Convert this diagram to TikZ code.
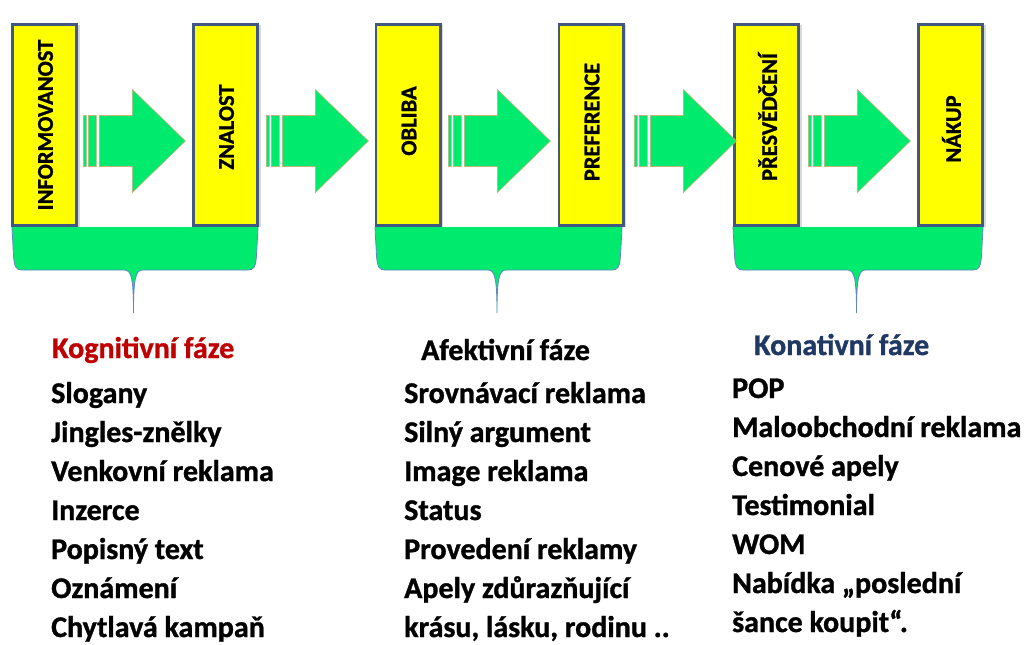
\documentclass[tikz,border=0pt]{standalone}
\usepackage{fontspec}
\setmainfont{Carlito}
\newfontfamily\heavyfont{Carlito}[BoldFeatures={FakeBold=1.1}]
\usetikzlibrary{calc,shadows}
\definecolor{boxyellow}{RGB}{255,255,0}
\definecolor{boxedge}{RGB}{65,88,130}
\definecolor{phasegreen}{RGB}{0,235,110}
\definecolor{arrowedge}{RGB}{196,178,120}
\definecolor{braceedge}{RGB}{95,135,200}
\definecolor{kogred}{RGB}{192,0,0}
\definecolor{konblue}{RGB}{31,56,100}
\tikzset{
  stagebox/.style={draw=boxedge, line width=2.8pt, fill=boxyellow,
    minimum width=64.2pt, minimum height=201.2pt, inner sep=0pt,
    drop shadow={shadow xshift=3pt, shadow yshift=-1pt, opacity=0.3}},
  stagelabel/.style={rotate=90, font=\heavyfont\fontsize{22.5}{27}\selectfont\bfseries, inner sep=0pt},
  phasehead/.style={anchor=base west, font=\heavyfont\fontsize{30}{35}\selectfont\bfseries, inner sep=0pt},
  phaseitem/.style={anchor=base west, font=\heavyfont\fontsize{30}{35}\selectfont\bfseries, inner sep=0pt},
  pics/stripearrow/.style={code={
    \path[fill=phasegreen, draw=arrowedge, line width=0.6pt]
      (0,-25.5) rectangle (3,25.5)
      (5,-25.5) rectangle (13,25.5)
      (16,-25.5) -- (49,-25.5) -- (49,-51.5) -- (102,0) -- (49,51.5) -- (49,25.5) -- (16,25.5) -- cycle;
  }},
  pics/phasebrace/.style 2 args={code={
    \pgfmathsetmacro\brL{#1}
    \pgfmathsetmacro\brR{#2}
    \pgfmathsetmacro\brM{(#1+#2)/2-1.5}
    \fill[phasegreen] (\brL,227) -- (\brL+1.5,256)
      .. controls (\brL+2.5,267) and (\brL+4,270) .. (\brL+10,270)
      -- (\brM-9,270) .. controls (\brM-2,270) and (\brM,279) .. (\brM,313)
      .. controls (\brM,279) and (\brM+2,270) .. (\brM+9,270)
      -- (\brR-10,270) .. controls (\brR-4,270) and (\brR-2.5,267) .. (\brR-1.5,256)
      -- (\brR,227) -- cycle;
    \draw[braceedge, line width=0.8pt] (\brL,227) -- (\brL+1.5,256)
      .. controls (\brL+2.5,267) and (\brL+4,270) .. (\brL+10,270)
      -- (\brM-9,270) .. controls (\brM-2,270) and (\brM,279) .. (\brM,313)
      .. controls (\brM,279) and (\brM+2,270) .. (\brM+9,270)
      -- (\brR-10,270) .. controls (\brR-4,270) and (\brR-2.5,267) .. (\brR-1.5,256)
      -- (\brR,227);
  }}
}
\begin{document}
\begin{tikzpicture}[x=1pt,y=-1pt]
\useasboundingbox[fill=white] (0,0) rectangle (1026,645);

% braces
\pic at (0,0) {phasebrace={12}{258}};
\pic at (0,0) {phasebrace={375}{622}};
\pic at (0,0) {phasebrace={733}{983}};

% stage boxes
\node[stagebox] (b1) at (44.5,125) {};
\node[stagebox] (b2) at (225.5,125) {};
\node[stagebox] (b3) at (408,125) {};
\node[stagebox] (b4) at (591,125) {};
\node[stagebox] (b5) at (766.5,125) {};
\node[stagebox] (b6) at (950.5,125) {};

\node[stagelabel] (l1) at ($(b1.center)+(1,0)$) {INFORMOVANOST};
\node[stagelabel] (l2) at ($(b2.center)+(1,2)$) {ZNALOST};
\node[stagelabel] (l3) at ($(b3.center)+(1,-4)$) {OBLIBA};
\node[stagelabel] (l4) at ($(b4.center)+(1,-3)$) {PREFERENCE};
\node[stagelabel] (l5) at ($(b5.center)+(1,-8)$) {PŘESVĚDČENÍ};
\node[stagelabel] (l6) at ($(b6.center)+(1,4)$) {NÁKUP};

% striped arrows
\pic at ($(b1.east)+(5.4,16)$) {stripearrow};
\pic at ($(b2.east)+(7.4,16)$) {stripearrow};
\pic at ($(b3.east)+(6.9,16)$) {stripearrow};
\pic at ($(b4.east)+(9.9,16)$) {stripearrow};
\pic at ($(b5.east)+(8.4,16)$) {stripearrow};

% headings
\node[phasehead, text=kogred] (h1) at (52,358) {Kognitivní fáze};
\node[phasehead, text=black] (h2) at (421,360) {Afektivní fáze};
\node[phasehead, text=konblue] (h3) at (754,355) {Konativní fáze};

% lists
\foreach \t [count=\k] in {Slogany, Jingles-znělky, Venkovní reklama, Inzerce, Popisný text, Oznámení, Chytlavá kampaň}
  \node[phaseitem] (ka\k) at (51,{403+39*(\k-1)}) {\t};
\foreach \t [count=\k] in {Srovnávací reklama, Silný argument, Image reklama, Status, Provedení reklamy, Apely zdůrazňující, {krásu, lásku, rodinu ..}}
  \node[phaseitem] (af\k) at (404,{403+39*(\k-1)}) {\t};
\foreach \t [count=\k] in {POP, Maloobchodní reklama, Cenové apely, Testimonial, WOM, Nabídka „poslední, šance koupit“.}
  \node[phaseitem] (ko\k) at (732,{398+39*(\k-1)}) {\t};
\end{tikzpicture}
\end{document}
